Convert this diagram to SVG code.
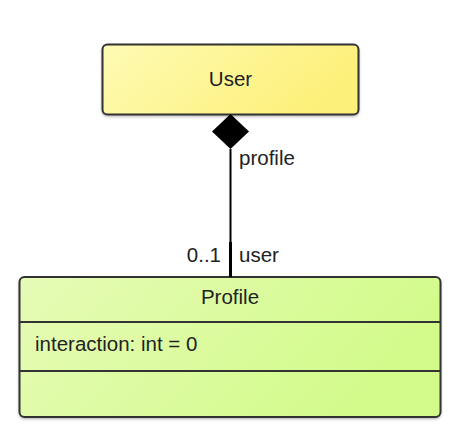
<svg xmlns="http://www.w3.org/2000/svg" width="464" height="442" viewBox="0 0 464 442">
<defs>
<linearGradient id="gUser" x1="0" y1="0" x2="1" y2="0.3">
<stop offset="0" stop-color="#fefbb4"/>
<stop offset="1" stop-color="#fdf07a"/>
</linearGradient>
<linearGradient id="gProfile" x1="0" y1="0" x2="1" y2="0.3">
<stop offset="0" stop-color="#e6fbb6"/>
<stop offset="1" stop-color="#d2fb8a"/>
</linearGradient>
<filter id="sh" x="-5%" y="-5%" width="110%" height="115%">
<feDropShadow dx="0" dy="1.5" stdDeviation="1.2" flood-color="#000" flood-opacity="0.25"/>
</filter>
</defs>
<style>
.box{stroke:#333;stroke-width:2}
.sep{stroke:#333;stroke-width:2}
.t{font-family:"Liberation Sans",Arial,sans-serif;font-size:20.5px;fill:#222}
.ln{stroke:#000;fill:none}
</style>
<rect width="464" height="442" fill="#fff"/>
<g id="User">
<rect class="box" x="102.5" y="44.5" width="256" height="70" rx="5" fill="url(#gUser)" filter="url(#sh)"/>
<text class="t" x="230.5" y="86" text-anchor="middle">User</text>
</g>
<g id="Profile">
<rect class="box" x="19.5" y="277" width="421" height="140" rx="5" fill="url(#gProfile)" filter="url(#sh)"/>
<line class="sep" x1="19.5" y1="322" x2="440.5" y2="322"/>
<line class="sep" x1="19.5" y1="371" x2="440.5" y2="371"/>
<text class="t" x="230" y="304" text-anchor="middle">Profile</text>
<text class="t" x="35" y="351">interaction: int = 0</text>
</g>
<g id="connectors">
<line class="ln" x1="230.5" y1="149" x2="230.5" y2="277" stroke-width="2"/>
<line class="ln" x1="230.5" y1="242" x2="230.5" y2="277" stroke-width="3"/>
<polygon points="230.5,114 249,131.5 230.5,149 212,131.5" fill="#000"/>
<text class="t" x="239" y="165">profile</text>
<text class="t" x="221" y="262" text-anchor="end">0..1</text>
<text class="t" x="239" y="262">user</text>
</g>
</svg>
